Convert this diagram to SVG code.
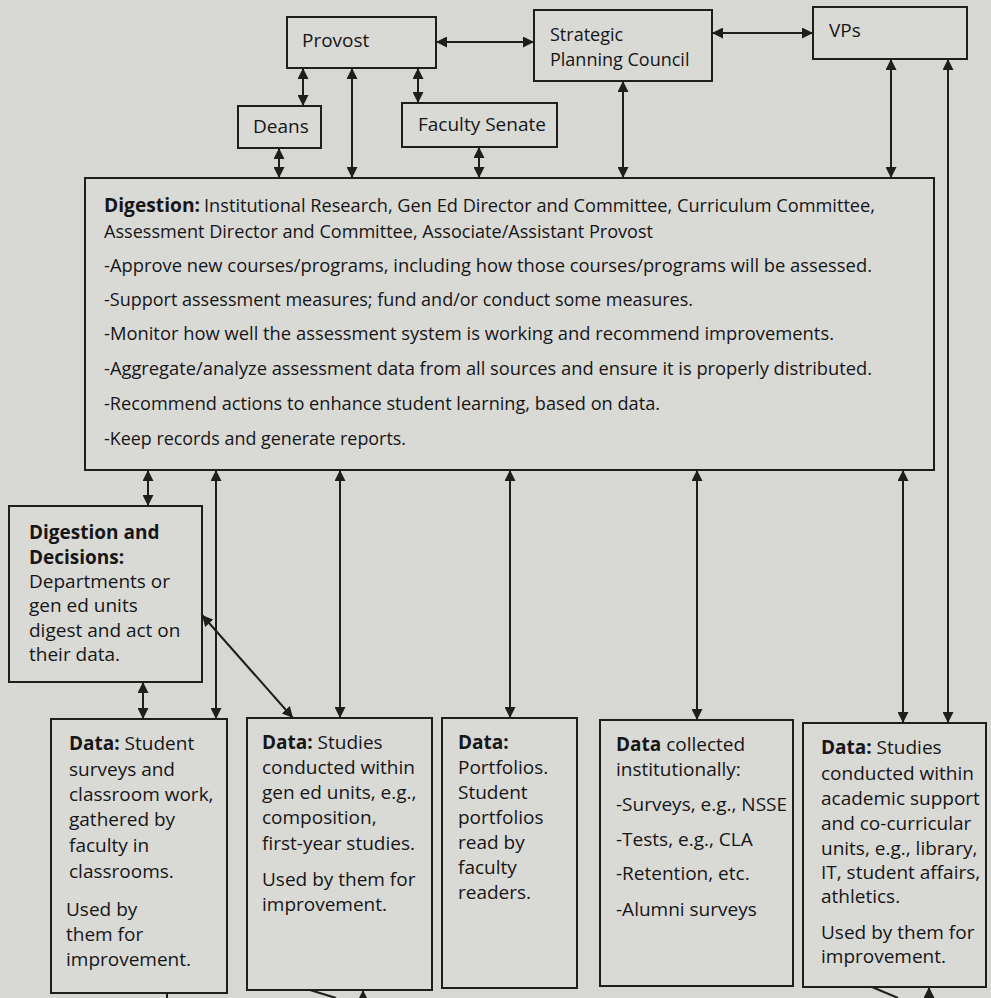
<svg xmlns="http://www.w3.org/2000/svg" width="991" height="998" viewBox="0 0 991 998">
<style>
.bg{fill:#d7d7d4}
.box{fill:#d9d9d6;stroke:#1e1e1e;stroke-width:2}
.t{font-family:"Open Sans","Noto Sans",sans-serif;font-size:19px;fill:#161616}
.s{font-size:18px}
.d{font-family:"Open Sans","Noto Sans",sans-serif;font-size:19px;fill:#161616}
.b{font-weight:700}
.c line{stroke:#1e1e1e;stroke-width:2;marker-start:url(#ah);marker-end:url(#ah)}
.c line.e{marker-start:none}
.c line.n{marker-start:none;marker-end:none}
</style>
<defs>
<marker id="ah" viewBox="0 0 10 10" refX="10" refY="5" markerWidth="11" markerHeight="11" markerUnits="userSpaceOnUse" orient="auto-start-reverse">
<path d="M0,0 L10,5 L0,10 z" fill="#1e1e1e"/>
</marker>
</defs>
<rect class="bg" x="0" y="0" width="991" height="998"/>

<g id="provost"><rect class="box" x="287" y="17" width="149" height="51"/><text class="t" x="302" y="47">Provost</text></g>
<g id="spc"><rect class="box" x="534" y="10" width="178" height="71"/><text class="t s" x="550" y="41">Strategic</text><text class="t s" x="550" y="66">Planning Council</text></g>
<g id="vps"><rect class="box" x="813" y="7" width="154" height="52"/><text class="t" x="829" y="37">VPs</text></g>
<g id="deans"><rect class="box" x="238" y="106" width="83" height="42"/><text class="t" x="253" y="133">Deans</text></g>
<g id="senate"><rect class="box" x="402" y="103" width="155" height="44"/><text class="t" x="418" y="131">Faculty Senate</text></g>

<g id="digestion"><rect class="box" x="85" y="178" width="849" height="292"/>
<text class="d b" x="104" y="212" textLength="96" lengthAdjust="spacingAndGlyphs">Digestion:</text>
<text class="d" x="204" y="212" textLength="671" lengthAdjust="spacingAndGlyphs">Institutional Research, Gen Ed Director and Committee, Curriculum Committee,</text>
<text class="d" x="104" y="238" textLength="549" lengthAdjust="spacingAndGlyphs">Assessment Director and Committee, Associate/Assistant Provost</text>
<text class="d" x="104" y="272" textLength="768" lengthAdjust="spacingAndGlyphs">-Approve new courses/programs, including how those courses/programs will be assessed.</text>
<text class="d" x="104" y="306" textLength="589" lengthAdjust="spacingAndGlyphs">-Support assessment measures; fund and/or conduct some measures.</text>
<text class="d" x="104" y="340" textLength="730" lengthAdjust="spacingAndGlyphs">-Monitor how well the assessment system is working and recommend improvements.</text>
<text class="d" x="104" y="375" textLength="768" lengthAdjust="spacingAndGlyphs">-Aggregate/analyze assessment data from all sources and ensure it is properly distributed.</text>
<text class="d" x="104" y="410" textLength="556" lengthAdjust="spacingAndGlyphs">-Recommend actions to enhance student learning, based on data.</text>
<text class="d" x="104" y="445" textLength="302" lengthAdjust="spacingAndGlyphs">-Keep records and generate reports.</text>
</g>

<g id="dept"><rect class="box" x="9" y="506" width="193" height="176"/>
<text class="t b" x="29" y="539">Digestion and</text>
<text class="t b" x="29" y="564">Decisions:</text>
<text class="t" x="29" y="588">Departments or</text>
<text class="t" x="29" y="612">gen ed units</text>
<text class="t" x="29" y="637">digest and act on</text>
<text class="t" x="29" y="661">their data.</text>
</g>

<g id="data1"><rect class="box" x="51" y="719" width="176" height="274"/>
<text class="t" x="69" y="750"><tspan class="b">Data:</tspan> Student</text>
<text class="t" x="69" y="776">surveys and</text>
<text class="t" x="69" y="801">classroom work,</text>
<text class="t" x="69" y="826">gathered by</text>
<text class="t" x="69" y="852">faculty in</text>
<text class="t" x="69" y="878">classrooms.</text>
<text class="t" x="66" y="916">Used by</text>
<text class="t" x="66" y="941">them for</text>
<text class="t" x="66" y="966">improvement.</text>
</g>

<g id="data2"><rect class="box" x="247" y="718" width="185" height="272"/>
<text class="t" x="262" y="749"><tspan class="b">Data:</tspan> Studies</text>
<text class="t" x="262" y="774">conducted within</text>
<text class="t" x="262" y="799">gen ed units, e.g.,</text>
<text class="t" x="262" y="824">composition,</text>
<text class="t" x="262" y="850">first-year studies.</text>
<text class="t" x="262" y="886">Used by them for</text>
<text class="t" x="262" y="911">improvement.</text>
</g>

<g id="data3"><rect class="box" x="442" y="718" width="135" height="270"/>
<text class="t b" x="458" y="749">Data:</text>
<text class="t" x="458" y="774">Portfolios.</text>
<text class="t" x="458" y="799">Student</text>
<text class="t" x="458" y="824">portfolios</text>
<text class="t" x="458" y="849">read by</text>
<text class="t" x="458" y="874">faculty</text>
<text class="t" x="458" y="899">readers.</text>
</g>

<g id="data4"><rect class="box" x="600" y="720" width="193" height="266"/>
<text class="t" x="616" y="751"><tspan class="b">Data</tspan> collected</text>
<text class="t" x="616" y="776">institutionally:</text>
<text class="t" x="616" y="811">-Surveys, e.g., NSSE</text>
<text class="t" x="616" y="846">-Tests, e.g., CLA</text>
<text class="t" x="616" y="880">-Retention, etc.</text>
<text class="t" x="616" y="916">-Alumni surveys</text>
</g>

<g id="data5"><rect class="box" x="803" y="723" width="183" height="264"/>
<text class="t" x="821" y="754"><tspan class="b">Data:</tspan> Studies</text>
<text class="t" x="821" y="780">conducted within</text>
<text class="t" x="821" y="805">academic support</text>
<text class="t" x="821" y="830">and co-curricular</text>
<text class="t" x="821" y="855">units, e.g., library,</text>
<text class="t" x="821" y="879">IT, student affairs,</text>
<text class="t" x="821" y="903">athletics.</text>
<text class="t" x="821" y="939">Used by them for</text>
<text class="t" x="821" y="963">improvement.</text>
</g>

<g id="connectors" class="c">
<line x1="436" y1="42" x2="534" y2="42"/>
<line x1="712" y1="33" x2="813" y2="33"/>
<line x1="303" y1="68" x2="303" y2="106"/>
<line x1="352" y1="68" x2="352" y2="178"/>
<line x1="418" y1="68" x2="418" y2="103"/>
<line x1="279" y1="148" x2="279" y2="178"/>
<line x1="479" y1="147" x2="479" y2="178"/>
<line x1="623" y1="81" x2="623" y2="178"/>
<line x1="891" y1="59" x2="891" y2="178"/>
<line x1="948" y1="59" x2="948" y2="723"/>
<line x1="148" y1="470" x2="148" y2="506"/>
<line x1="216" y1="470" x2="216" y2="719"/>
<line x1="340" y1="470" x2="340" y2="718"/>
<line x1="510" y1="470" x2="510" y2="718"/>
<line x1="697" y1="470" x2="697" y2="720"/>
<line x1="903" y1="470" x2="903" y2="723"/>
<line x1="143" y1="682" x2="143" y2="719"/>
<line x1="202" y1="615" x2="293" y2="718"/>
<line class="n" x1="167" y1="993" x2="167" y2="998"/>
<line class="n" x1="310" y1="990" x2="336" y2="998"/>
<line class="e" x1="363" y1="1004" x2="363" y2="990"/>
<line class="n" x1="872" y1="987" x2="898" y2="998"/>
<line class="e" x1="929" y1="1004" x2="929" y2="987"/>
</g>
</svg>
